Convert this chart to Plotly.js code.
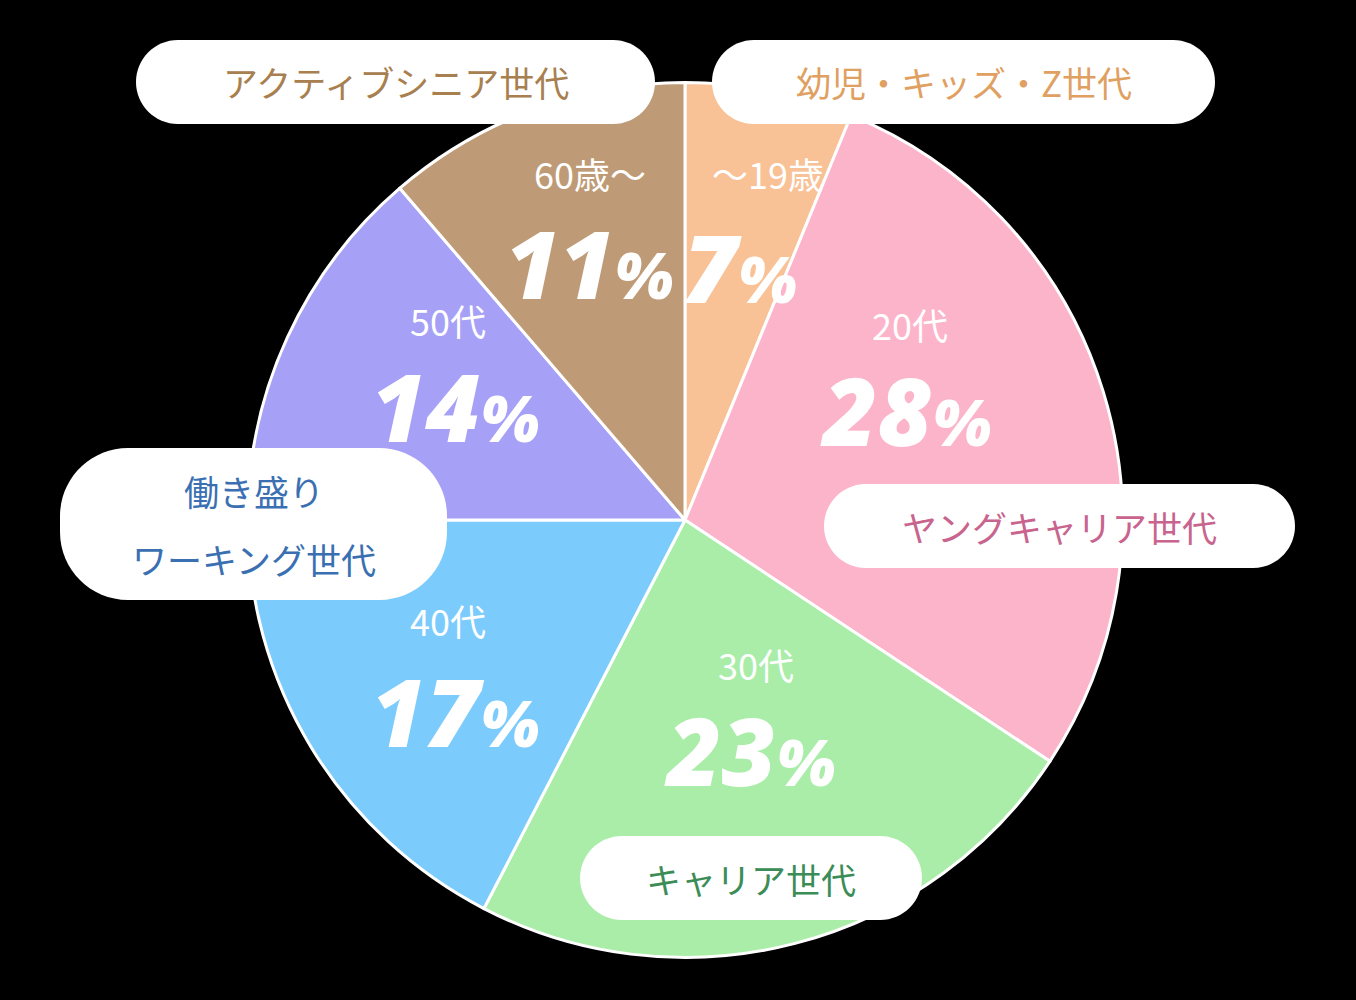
<!DOCTYPE html>
<html>
<head>
<meta charset="utf-8">
<script src="https://cdn.plot.ly/plotly-3.0.1.min.js"></script>
<style>html,body{margin:0;padding:0;background:#000;}#chart{width:1356px;height:1000px;}</style>
</head>
<body>
<div id="chart"></div>
<script>
// ---- data ----
const categories = ["～19歳", "20代", "30代", "40代", "50代", "60歳～"];
const shares = [6.2, 28.1, 23.3, 17.4, 13.7, 11.3];      // slice sizes as drawn
const pctLabels = ["7", "28", "23", "17", "14", "11"];  // printed percentages
const groupNames = ["幼児・キッズ・Z世代", "ヤングキャリア世代", "キャリア世代", "働き盛り|ワーキング世代", "アクティブシニア世代"];

// ---- styles / layout ----
const W = 1356, H = 1000;
const sliceColors = ["#F9C196", "#FCB4CA", "#A9EDA9", "#7BCBFC", "#A6A0F6", "#BE9B76"];
const px = x => x / W, py = y => 1 - y / H;

// text spots (pixel centres) for each slice: [labelX, labelY, pctX, pctY]
const textSpots = [
  [768, 173, 740, 267],
  [910, 324, 906, 410],
  [756, 664, 750, 750],
  [448, 620, 455, 711],
  [448, 320, 455, 406],
  [590, 173, 589, 263]
];
// callout boxes: [x0, y0, x1, y1, radius, colour]
const boxes = [
  [712, 40, 1215, 124, 42, "#E0A062"],
  [824, 484, 1295, 568, 42, "#C8648E"],
  [580, 836, 922, 920, 42, "#3B8C57"],
  [60, 448, 447, 600, 68, "#3A70B2"],
  [136, 40, 655, 124, 42, "#A8804F"]
];

function rr(x0, y0, x1, y1, r) {
  const k = 0.5523 * r;
  const P = (x, y) => (x / W).toFixed(5) + "," + (1 - y / H).toFixed(5);
  return "M" + P(x0 + r, y0) + " L" + P(x1 - r, y0) +
    " C" + P(x1 - r + k, y0) + " " + P(x1, y0 + r - k) + " " + P(x1, y0 + r) +
    " L" + P(x1, y1 - r) +
    " C" + P(x1, y1 - r + k) + " " + P(x1 - r + k, y1) + " " + P(x1 - r, y1) +
    " L" + P(x0 + r, y1) +
    " C" + P(x0 + r - k, y1) + " " + P(x0, y1 - r + k) + " " + P(x0, y1 - r) +
    " L" + P(x0, y0 + r) +
    " C" + P(x0, y0 + r - k) + " " + P(x0 + r - k, y0) + " " + P(x0 + r, y0) + " Z";
}

const cx = 685, cy = 520, R = 437.5;
const trace = {
  type: "pie",
  values: shares,
  labels: categories,
  sort: false,
  direction: "clockwise",
  rotation: 0,
  textinfo: "none",
  hoverinfo: "skip",
  showlegend: false,
  marker: { colors: sliceColors, line: { color: "#FFFFFF", width: 3 } },
  domain: { x: [px(cx - R), px(cx + R)], y: [py(cy + R), py(cy - R)] }
};

const jp = "Noto Sans CJK JP, Noto Sans, sans-serif";
const annotations = [];
const shapes = [];

categories.forEach((c, i) => {
  const s = textSpots[i];
  annotations.push({
    xref: "paper", yref: "paper", x: px(s[0]), y: py(s[1]),
    xanchor: "center", yanchor: "middle", showarrow: false,
    text: c, font: { family: jp, size: 36, color: "#FFFFFF" }
  });
  annotations.push({
    xref: "paper", yref: "paper", x: px(s[2]), y: py(s[3]),
    xanchor: "center", yanchor: "middle", showarrow: false,
    text: pctLabels[i] + '<span style="font-size:64px">%</span>',
    font: { family: "Open Sans, Noto Sans, sans-serif", size: 94, color: "#FFFFFF", weight: 800, style: "italic" }
  });
});

groupNames.forEach((g, i) => {
  const b = boxes[i];
  shapes.push({
    type: "path", xref: "paper", yref: "paper", layer: "above",
    path: rr(b[0], b[1], b[2], b[3], b[4]),
    fillcolor: "#FFFFFF", line: { width: 0 }
  });
  const lines = g.split("|");
  const mx = (b[0] + b[2]) / 2, my = (b[1] + b[3]) / 2;
  lines.forEach((ln, j) => {
    const yy = lines.length === 1 ? my : my + (j - 0.5) * 68;
    annotations.push({
      xref: "paper", yref: "paper", x: px(mx), y: py(yy),
      xanchor: "center", yanchor: "middle", showarrow: false,
      text: ln, font: { family: jp, size: 35, color: b[5] }
    });
  });
});

const layout = {
  width: W, height: H,
  margin: { l: 0, r: 0, t: 0, b: 0 },
  paper_bgcolor: "#000000", plot_bgcolor: "#000000",
  shapes: shapes, annotations: annotations
};

Plotly.newPlot("chart", [trace], layout, { displayModeBar: false, staticPlot: true });
</script>
</body>
</html>
